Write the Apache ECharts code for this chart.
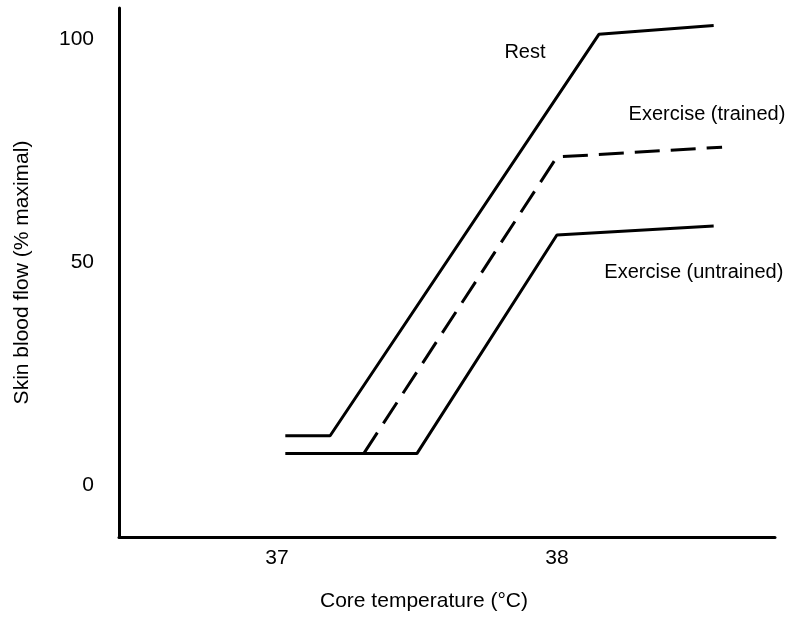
<!DOCTYPE html>
<html>
<head>
<meta charset="utf-8">
<script src="https://cdn.jsdelivr.net/npm/echarts@6/dist/echarts.min.js"></script>
<style>
html,body{margin:0;padding:0;background:#fff;}
#c{width:800px;height:622px;}
</style>
</head>
<body>
<div id="c"></div>
<script>
// Data (core temperature °C, skin blood flow % maximal)
const restX = [37.03, 37.19, 38.15, 38.56];
const restY = [11, 11, 101, 103];
const trainedX = [37.31, 38.0, 38.59];
const trainedY = [7, 73.5, 75.7];
const untrainedX = [37.03, 37.5, 38.0, 38.56];
const untrainedY = [7, 7, 56, 58];
const xTicks = [37, 38];
const yTicks = [0, 50, 100];
const labelNames = ['Rest', 'Exercise (trained)', 'Exercise (untrained)'];
const labelX = [37.886, 38.536, 38.489];
const labelY = [97.0, 83.1, 47.7];

const FONT = '"Liberation Sans", Arial, sans-serif';
const FS = 21;
const zip = (xs, ys) => xs.map((x, i) => [x, ys[i]]);

function annot(i) {
  return {
    silent: true,
    symbol: 'circle',
    symbolSize: 1,
    itemStyle: {color: 'rgba(0,0,0,0)'},
    label: {
      show: true, position: 'inside', formatter: labelNames[i],
      color: '#000', fontSize: 20, fontFamily: FONT
    },
    data: [{coord: [labelX[i], labelY[i]]}]
  };
}

const chart = echarts.init(document.getElementById('c'), null, {renderer: 'canvas'});
chart.setOption({
  animation: false,
  backgroundColor: '#fff',
  grid: {left: 119, right: 25, top: 8, bottom: 85, containLabel: false},
  xAxis: {
    type: 'value', min: 36.436, max: 38.779,
    name: 'Core temperature (°C)', nameLocation: 'middle', nameGap: 54,
    nameTextStyle: {color: '#000', fontSize: FS, fontFamily: FONT, padding: [0, 46, 0, 0]},
    axisLine: {show: true, onZero: false, lineStyle: {color: '#000', width: 3}},
    axisTick: {show: false},
    splitLine: {show: false},
    axisLabel: {customValues: xTicks, margin: 11, color: '#000', fontSize: FS, fontFamily: FONT}
  },
  yAxis: {
    type: 'value', min: -11.7, max: 106.9,
    name: 'Skin blood flow (% maximal)', nameLocation: 'middle', nameGap: 86, nameRotate: 90,
    nameTextStyle: {color: '#000', fontSize: FS, fontFamily: FONT},
    axisLine: {show: true, onZero: false, lineStyle: {color: '#000', width: 3}},
    axisTick: {show: false},
    splitLine: {show: false},
    axisLabel: {customValues: yTicks, margin: 25, color: '#000', fontSize: FS, fontFamily: FONT}
  },
  series: [
    {name: 'Rest', type: 'line', data: zip(restX, restY), symbol: 'none',
     lineStyle: {color: '#000', width: 3}, markPoint: annot(0)},
    {name: 'Exercise (trained)', type: 'line', data: zip(trainedX, trainedY), symbol: 'none',
     lineStyle: {color: '#000', width: 3, type: [25, 11]}, markPoint: annot(1)},
    {name: 'Exercise (untrained)', type: 'line', data: zip(untrainedX, untrainedY), symbol: 'none',
     lineStyle: {color: '#000', width: 3}, markPoint: annot(2)}
  ]
});
</script>
</body>
</html>
